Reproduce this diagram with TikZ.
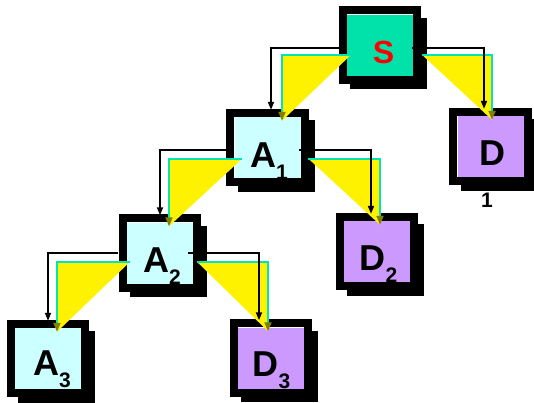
\documentclass[tikz,border=0pt]{standalone}
\usepackage{fontspec}
\setmainfont{Liberation Sans}
\usetikzlibrary{calc,arrows.meta}

\definecolor{sgreen}{RGB}{0,226,170}
\definecolor{tealline}{RGB}{0,228,184}
\definecolor{acyan}{RGB}{204,255,255}
\definecolor{dlilac}{RGB}{204,153,255}
\definecolor{tipolive}{RGB}{128,128,0}

\tikzset{
  box/.style={rectangle, inner sep=0pt, minimum width=66pt, minimum height=61pt},
  sbox/.style={box, fill=sgreen},
  abox/.style={box, fill=acyan},
  dbox/.style={box, fill=dlilac},
  lbl/.style={inner sep=0pt, anchor=base west, font=\fontsize{36}{36}\selectfont\bfseries},
  frame/.style={draw=black, line width=8pt},
  blkline/.style={draw=black, line width=1.7pt, -{Triangle[length=8pt,width=6pt]}},
  tealarrow/.style={draw=tealline, line width=2pt, -{Triangle[length=9pt,width=7pt,color=tipolive]}},
  wedge/.style={fill=yellow},
}
\newcommand{\subdig}[1]{\raisebox{-12pt}{\fontsize{21}{21}\selectfont #1}}

\begin{document}
\begin{tikzpicture}[x=1pt,y=-1pt]
\useasboundingbox (0,0) rectangle (534,402);

% drop shadows
\foreach \p in {(380,45),(490.5,146.5),(267.5,147.5),(160,253),(48,358.5),(377,251.5),(271,358)}
  \fill[black] \p ++(-30,-27.5) rectangle ++(77,71.5);

% box bodies
\node[sbox] (S)  at (380,45) {};
\node[dbox] (D1) at (490.5,146.5) {};
\node[abox] (A1) at (267.5,147.5) {};
\node[abox] (A2) at (160,253) {};
\node[abox] (A3) at (48,358.5) {};
\node[dbox] (D2) at (377,251.5) {};
\node[dbox] (D3) at (271,358) {};

% labels
\node[lbl, anchor=base, text=red, font=\fontsize{32}{32}\selectfont\bfseries] (tS) at ($(S)+(3.5,18)$) {S};
\node[lbl] (tD1) at ($(D1)+(-11,18.5)$) {D};
\node[inner sep=0pt, anchor=base, font=\fontsize{21}{21}\selectfont\bfseries] (tD1n) at (487,207) {1};
\node[lbl] (tA1) at ($(A1)+(-17.5,19.5)$) {A\subdig{1}};
\node[lbl] (tA2) at ($(A2)+(-17,19)$) {A\subdig{2}};
\node[lbl] (tA3) at ($(A3)+(-15,16.5)$) {A\subdig{3}};
\node[lbl] (tD2) at ($(D2)+(-17.6,18.5)$) {D\subdig{2}};
\node[lbl] (tD3) at ($(D3)+(-18.6,18)$) {D\subdig{3}};

% thick black frames
\foreach \n in {S,D1,A1,A2,A3,D2,D3}
  \draw[frame] ([shift={(-4pt,4pt)}]\n.north west) rectangle ([shift={(4pt,-4pt)}]\n.south east);

% yellow wedges
\fill[wedge] ($(S.west)+(4,10)$) -| ($(A1.north)+(14.5,4)$) -- cycle;
\fill[wedge] ($(S.east)+(9,10)$) -| ($(D1.north)+(1.5,4)$) -- cycle;
\fill[wedge] ($(A1.west)+(7.5,11.5)$) -| ($(A2.north)+(9,4)$) -- cycle;
\fill[wedge] ($(A1.east)+(7.5,11)$) -| ($(D2.north)+(3,4)$) -- cycle;
\fill[wedge] ($(A2.west)+(3,9)$) -| ($(A3.north)+(9,4)$) -- cycle;
\fill[wedge] ($(A2.east)+(4,9)$) -| ($(D3.north)+(-3,4)$) -- cycle;

% teal elbow arrows
\draw[tealarrow] ($(S.west)+(4,10)$) -| ($(A1.north)+(14.5,4)$);
\draw[tealarrow] ($(S.east)+(9,10)$) -| ($(D1.north)+(1.5,4)$);
\draw[tealarrow] ($(A1.west)+(7.5,11.5)$) -| ($(A2.north)+(9,4)$);
\draw[tealarrow] ($(A1.east)+(7.5,11)$) -| ($(D2.north)+(3,4)$);
\draw[tealarrow] ($(A2.west)+(3,9)$) -| ($(A3.north)+(9,4)$);
\draw[tealarrow] ($(A2.east)+(4,9)$) -| ($(D3.north)+(-3,4)$);

% black elbow arrows
\draw[blkline] ($(S.west)+(-8,3)$) -| ($(A1.north)+(3.5,-7)$);
\draw[blkline] ($(S.east)+(-1,3)$) -| ($(D1.north)+(-6.5,-7)$);
\draw[blkline] ($(A1.west)+(-7.5,2.5)$) -| ($(A2.north)+(0,-7)$);
\draw[blkline] ($(A1.east)+(-1.5,2.5)$) -| ($(D2.north)+(-6,-7)$);
\draw[blkline] ($(A2.west)+(-9,0)$) -| ($(A3.north)+(0,-7)$);
\draw[blkline] ($(A2.east)+(-5,0)$) -| ($(D3.north)+(-12,-7)$);
\end{tikzpicture}
\end{document}
